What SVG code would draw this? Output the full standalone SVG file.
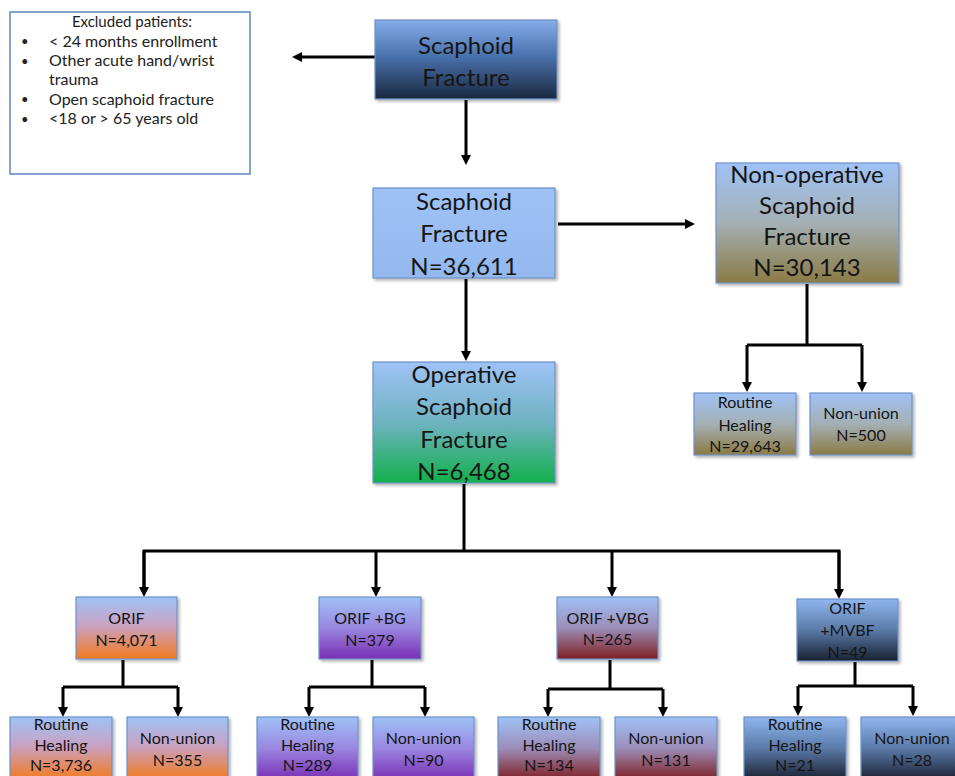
<svg xmlns="http://www.w3.org/2000/svg" width="955" height="776" viewBox="0 0 955 776">
<defs>
<style>
.t{font-family:Lato,"Open Sans","Liberation Sans",sans-serif;fill:#151515;text-anchor:middle}
.big{font-size:24px}
.sm{font-size:16px}
.ex{font-family:Lato,"Open Sans","Liberation Sans",sans-serif;fill:#222;font-size:16px}
.bu{font-family:Lato,"Open Sans","Liberation Sans",sans-serif;fill:#222;font-size:13px}
.box{stroke:#6e92c8;stroke-width:1.2;filter:url(#sh)}
.con{fill:none;stroke:#000;stroke-width:3}
.arr{marker-end:url(#ah)}
</style>
<filter id="sh" x="-10%" y="-10%" width="130%" height="130%">
<feDropShadow dx="2" dy="2" stdDeviation="1.5" flood-color="#000" flood-opacity="0.3"/>
</filter>
<marker id="ah" markerUnits="userSpaceOnUse" markerWidth="10" markerHeight="10" refX="1" refY="5" orient="auto">
<path d="M0,0 L10,5 L0,10 z" fill="#000"/>
</marker>
<linearGradient id="gTop" x1="0" y1="0" x2="0" y2="1">
<stop offset="0" stop-color="#86aeea"/><stop offset="0.45" stop-color="#4a72ad"/><stop offset="1" stop-color="#1a2940"/>
</linearGradient>
<linearGradient id="gBlue" x1="0" y1="0" x2="0" y2="1">
<stop offset="0" stop-color="#9ec2f5"/><stop offset="1" stop-color="#93b8ee"/>
</linearGradient>
<linearGradient id="gGreen" x1="0" y1="0" x2="0" y2="1">
<stop offset="0" stop-color="#9fc2f6"/><stop offset="0.5" stop-color="#6fb3c2"/><stop offset="1" stop-color="#12b04a"/>
</linearGradient>
<linearGradient id="gOlive" x1="0" y1="0" x2="0" y2="1">
<stop offset="0" stop-color="#9fc2f6"/><stop offset="0.5" stop-color="#a4b0b4"/><stop offset="1" stop-color="#8b7a45"/>
</linearGradient>
<linearGradient id="gOrange" x1="0" y1="0" x2="0" y2="1">
<stop offset="0" stop-color="#9fc2f6"/><stop offset="0.45" stop-color="#c9a2c4"/><stop offset="1" stop-color="#f27a1e"/>
</linearGradient>
<linearGradient id="gPurple" x1="0" y1="0" x2="0" y2="1">
<stop offset="0" stop-color="#9fc2f6"/><stop offset="0.5" stop-color="#9a86e0"/><stop offset="1" stop-color="#7a2eb4"/>
</linearGradient>
<linearGradient id="gRed" x1="0" y1="0" x2="0" y2="1">
<stop offset="0" stop-color="#9fc2f6"/><stop offset="0.5" stop-color="#9c8cb8"/><stop offset="1" stop-color="#7e1f22"/>
</linearGradient>
<linearGradient id="gDark" x1="0" y1="0" x2="0" y2="1">
<stop offset="0" stop-color="#8fb6ee"/><stop offset="0.5" stop-color="#5a7aa8"/><stop offset="1" stop-color="#1a2030"/>
</linearGradient>
</defs>
<rect width="955" height="776" fill="#fff"/>

<g id="connectors">
<line class="con arr" x1="375" y1="57" x2="301" y2="57"/>
<line class="con arr" x1="466" y1="100" x2="466" y2="156"/>
<line class="con arr" x1="558" y1="224" x2="686" y2="224"/>
<line class="con arr" x1="466" y1="279" x2="466" y2="352"/>
<path class="con" d="M464,484 V551"/>
<path class="con" d="M144,588 V551 H839 V590"/>
<line class="con arr" x1="144" y1="551" x2="144" y2="588"/>
<line class="con arr" x1="376" y1="551" x2="376" y2="588"/>
<line class="con arr" x1="612" y1="551" x2="612" y2="588"/>
<line class="con arr" x1="839" y1="551" x2="839" y2="590"/>
<path class="con" d="M807,284 V345"/>
<path class="con" d="M747,345 H862"/>
<line class="con arr" x1="747" y1="345" x2="747" y2="383"/>
<line class="con arr" x1="862" y1="345" x2="862" y2="383"/>
<path class="con" d="M123,660 V687 M63,687 H178"/>
<line class="con arr" x1="63" y1="687" x2="63" y2="708"/>
<line class="con arr" x1="178" y1="687" x2="178" y2="708"/>
<path class="con" d="M372,660 V687 M309,687 H425"/>
<line class="con arr" x1="309" y1="687" x2="309" y2="708"/>
<line class="con arr" x1="425" y1="687" x2="425" y2="708"/>
<path class="con" d="M610,660 V689 M548,689 H663"/>
<line class="con arr" x1="548" y1="689" x2="548" y2="708"/>
<line class="con arr" x1="663" y1="689" x2="663" y2="708"/>
<path class="con" d="M855,662 V686 M798,686 H913"/>
<line class="con arr" x1="798" y1="686" x2="798" y2="707"/>
<line class="con arr" x1="913" y1="686" x2="913" y2="707"/>
</g>

<g id="excluded">
<rect x="10" y="12" width="240" height="162" fill="#fff" stroke="#5b86c4" stroke-width="1.5"/>
<text class="ex" x="132" y="27" text-anchor="middle" style="font-size:15px">Excluded patients:</text>
<text class="bu" x="21" y="46">•</text><text class="ex" x="49" y="46.5">&lt; 24 months enrollment</text>
<text class="bu" x="21" y="65.5">•</text><text class="ex" x="49" y="66">Other acute hand/wrist</text>
<text class="ex" x="49" y="85.3">trauma</text>
<text class="bu" x="21" y="104">•</text><text class="ex" x="49" y="104.6">Open scaphoid fracture</text>
<text class="bu" x="21" y="123.5">•</text><text class="ex" x="49" y="124">&lt;18 or  &gt; 65 years old</text>
</g>

<g id="n-top">
<rect class="box" x="375" y="20" width="182" height="79" fill="url(#gTop)"/>
<text class="t big" x="466" y="54">Scaphoid</text>
<text class="t big" x="466" y="86">Fracture</text>
</g>

<g id="n-all">
<rect class="box" x="373" y="188" width="182" height="90" fill="url(#gBlue)"/>
<text class="t big" x="464" y="210">Scaphoid</text>
<text class="t big" x="464" y="242">Fracture</text>
<text class="t big" x="464" y="275">N=36,611</text>
</g>

<g id="n-nonop">
<rect class="box" x="716" y="163" width="183" height="120" fill="url(#gOlive)"/>
<text class="t big" x="807" y="183">Non-operative</text>
<text class="t big" x="807" y="214">Scaphoid</text>
<text class="t big" x="807" y="245">Fracture</text>
<text class="t big" x="807" y="276">N=30,143</text>
</g>

<g id="n-nonop-heal">
<rect class="box" x="694" y="393" width="102" height="62" fill="url(#gOlive)"/>
<text class="t sm" x="745" y="408">Routine</text>
<text class="t sm" x="745" y="431">Healing</text>
<text class="t sm" x="745" y="452">N=29,643</text>
</g>

<g id="n-nonop-nu">
<rect class="box" x="810" y="393" width="102" height="62" fill="url(#gOlive)"/>
<text class="t sm" x="861" y="419">Non-union</text>
<text class="t sm" x="861" y="441">N=500</text>
</g>

<g id="n-op">
<rect class="box" x="373" y="362" width="182" height="121" fill="url(#gGreen)"/>
<text class="t big" x="464" y="383">Operative</text>
<text class="t big" x="464" y="415">Scaphoid</text>
<text class="t big" x="464" y="448">Fracture</text>
<text class="t big" x="464" y="480">N=6,468</text>
</g>

<g id="n-orif">
<rect class="box" x="76" y="597" width="101" height="62" fill="url(#gOrange)"/>
<text class="t sm" x="126.5" y="624">ORIF</text>
<text class="t sm" x="126.5" y="646">N=4,071</text>
</g>
<g id="n-orif-heal">
<rect class="box" x="10" y="717" width="102" height="63" fill="url(#gOrange)"/>
<text class="t sm" x="61" y="730">Routine</text>
<text class="t sm" x="61" y="751">Healing</text>
<text class="t sm" x="61" y="771">N=3,736</text>
</g>
<g id="n-orif-nu">
<rect class="box" x="127" y="717" width="101" height="63" fill="url(#gOrange)"/>
<text class="t sm" x="177.5" y="744">Non-union</text>
<text class="t sm" x="177.5" y="766">N=355</text>
</g>

<g id="n-bg">
<rect class="box" x="319" y="597" width="102" height="62" fill="url(#gPurple)"/>
<text class="t sm" x="370" y="624">ORIF +BG</text>
<text class="t sm" x="370" y="646">N=379</text>
</g>
<g id="n-bg-heal">
<rect class="box" x="257" y="717" width="101" height="63" fill="url(#gPurple)"/>
<text class="t sm" x="307.5" y="730">Routine</text>
<text class="t sm" x="307.5" y="751">Healing</text>
<text class="t sm" x="307.5" y="771">N=289</text>
</g>
<g id="n-bg-nu">
<rect class="box" x="373" y="717" width="101" height="63" fill="url(#gPurple)"/>
<text class="t sm" x="423.5" y="744">Non-union</text>
<text class="t sm" x="423.5" y="766">N=90</text>
</g>

<g id="n-vbg">
<rect class="box" x="557" y="597" width="101" height="62" fill="url(#gRed)"/>
<text class="t sm" x="607.5" y="624">ORIF +VBG</text>
<text class="t sm" x="607.5" y="645">N=265</text>
</g>
<g id="n-vbg-heal">
<rect class="box" x="498" y="717" width="102" height="63" fill="url(#gRed)"/>
<text class="t sm" x="549" y="730">Routine</text>
<text class="t sm" x="549" y="751">Healing</text>
<text class="t sm" x="549" y="771">N=134</text>
</g>
<g id="n-vbg-nu">
<rect class="box" x="615" y="717" width="102" height="63" fill="url(#gRed)"/>
<text class="t sm" x="666" y="744">Non-union</text>
<text class="t sm" x="666" y="766">N=131</text>
</g>

<g id="n-mvbf">
<rect class="box" x="797" y="599" width="101" height="62" fill="url(#gDark)"/>
<text class="t sm" x="847.5" y="614">ORIF</text>
<text class="t sm" x="847.5" y="636">+MVBF</text>
<text class="t sm" x="847.5" y="658">N=49</text>
</g>
<g id="n-mvbf-heal">
<rect class="box" x="744" y="717" width="102" height="63" fill="url(#gDark)"/>
<text class="t sm" x="795" y="730">Routine</text>
<text class="t sm" x="795" y="751">Healing</text>
<text class="t sm" x="795" y="771">N=21</text>
</g>
<g id="n-mvbf-nu">
<rect class="box" x="861" y="717" width="102" height="63" fill="url(#gDark)"/>
<text class="t sm" x="912" y="744">Non-union</text>
<text class="t sm" x="912" y="766">N=28</text>
</g>
</svg>
